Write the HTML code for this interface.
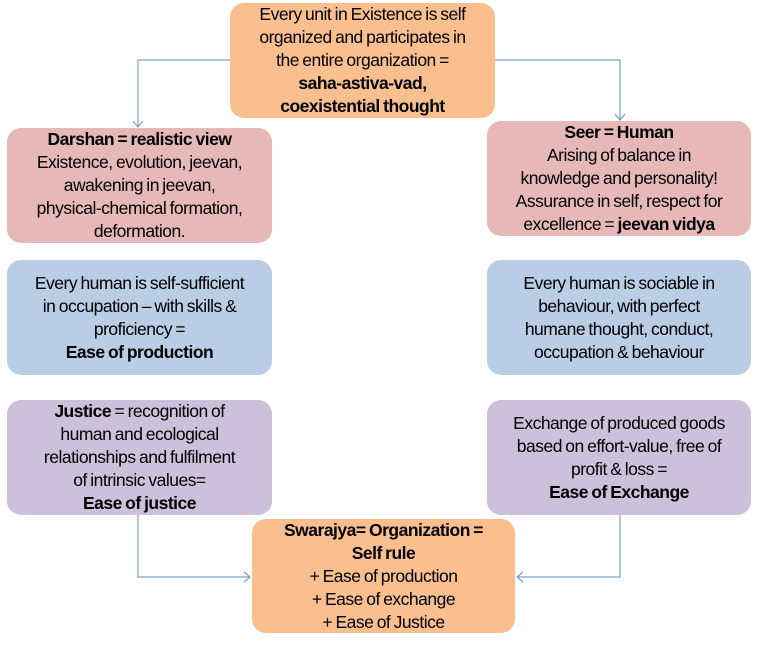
<!DOCTYPE html>
<html><head><meta charset="utf-8"><style>
body{margin:0;width:768px;height:645px;background:#fff;position:relative;overflow:hidden;font-family:"Liberation Sans",sans-serif;}
.b{position:absolute;border-radius:14px;display:flex;flex-direction:column;justify-content:center;align-items:center;text-align:center;font-size:17.5px;line-height:23px;color:#000;letter-spacing:-0.5px;word-spacing:-1px;box-sizing:border-box;padding:0 2px;white-space:nowrap;}
.o{background:#f9bf8f}.p{background:#e6b9b8}.bl{background:#b9cde5}.pu{background:#ccc1da}
b{font-weight:bold}
svg{position:absolute;left:0;top:0}
</style></head><body>
<svg width="768" height="645"><g stroke="#7f9fc8" stroke-width="1.2" fill="none">
<polyline points="230,60 138,60 138,127"/><polyline points="133,121 138,127 143,121"/>
<polyline points="495,60 620,60 620,120"/><polyline points="615,114 620,120 625,114"/>
<polyline points="138,515 138,577 250,577"/><polyline points="244,572 250,577 244,582"/>
<polyline points="620,515 620,577 517,577"/><polyline points="523,572 517,577 523,582"/>
</g></svg>
<div class="b o" style="left:230px;top:3px;width:265px;height:115px"><div>Every unit in Existence is self<br>organized and participates in<br>the entire organization =<br><b>saha-astiva-vad,</b><br><b>coexistential thought</b></div></div>
<div class="b p" style="left:7px;top:128px;width:265px;height:115px">
<div><b>Darshan = realistic view</b><br>Existence, evolution, jeevan,<br>awakening in jeevan,<br>physical-chemical formation,<br>deformation.</div></div>
<div class="b p" style="left:487px;top:121px;width:264px;height:115px"><div><b>Seer = Human</b><br>Arising of balance in<br>knowledge and personality!<br>Assurance in self, respect for<br>excellence = <b>jeevan vidya</b></div></div>
<div class="b bl" style="left:7px;top:260px;width:265px;height:115px"><div>Every human is self-sufficient<br>in occupation – with skills &amp;<br>proficiency =<br><b>Ease of production</b></div></div>
<div class="b bl" style="left:487px;top:260px;width:264px;height:115px"><div>Every human is sociable in<br>behaviour, with perfect<br>humane thought, conduct,<br>occupation &amp; behaviour</div></div>
<div class="b pu" style="left:7px;top:400px;width:265px;height:115px"><div><b>Justice</b> = recognition of<br>human and ecological<br>relationships and fulfilment<br>of intrinsic values=<br><b>Ease of justice</b></div></div>
<div class="b pu" style="left:487px;top:400px;width:264px;height:115px"><div>Exchange of produced goods<br>based on effort-value, free of<br>profit &amp; loss =<br><b>Ease of Exchange</b></div></div>
<div class="b o" style="left:252px;top:519px;width:263px;height:114px"><div><b>Swarajya= Organization =</b><br><b>Self rule</b><br>+ Ease of production<br>+ Ease of exchange<br>+ Ease of Justice</div></div>
</body></html>
